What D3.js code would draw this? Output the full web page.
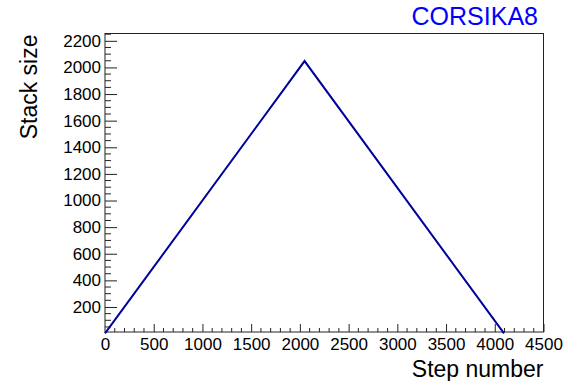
<!DOCTYPE html>
<html>
<head>
<meta charset="utf-8">
<script src="https://cdn.jsdelivr.net/npm/d3@7"></script>
<style>
  html, body { margin: 0; padding: 0; background: #fff; }
  #chart svg { display: block; font-family: "Liberation Sans", Arial, sans-serif; }
</style>
</head>
<body>
<div id="chart"></div>
<script>
// data
const steps = [0, 2048, 4095];
const stackSize = [1, 2048, 1];
const xTicks = [0, 500, 1000, 1500, 2000, 2500, 3000, 3500, 4000, 4500];
const yTicks = [200, 400, 600, 800, 1000, 1200, 1400, 1600, 1800, 2000, 2200];
const xDomain = [0, 4500];
const yDomain = [12, 2255];

const size = {
    width: 575,
    height: 381,
    margin: { top: 33.5, right: 31.5, bottom: 49, left: 105 }
};
const w = size.width - size.margin.left - size.margin.right;
const h = size.height - size.margin.top - size.margin.bottom;

const xScale = d3.scaleLinear().domain(xDomain).range([0, w]);
const yScale = d3.scaleLinear().domain(yDomain).range([h, 0]);

const svg = d3.select("#chart")
    .append("svg")
    .attr("width", size.width)
    .attr("height", size.height);

svg.append("rect")
    .attr("width", size.width)
    .attr("height", size.height)
    .attr("fill", "#fff");

const g = svg.append("g")
    .attr("transform", `translate(${size.margin.left}, ${size.margin.top})`);

// frame
g.append("rect")
    .attr("x", 0).attr("y", 0)
    .attr("width", w).attr("height", h)
    .attr("fill", "none")
    .attr("stroke", "#222")
    .attr("stroke-width", 1);

// minor ticks
const xMinor = d3.range(xDomain[0], xDomain[1] + 1, 100).filter(v => v % 500 !== 0);
const yMinor = d3.range(50, yDomain[1], 50).filter(v => v % 200 !== 0 && v >= yDomain[0]);

// X axis
const xAxis = g.append("g")
    .attr("transform", `translate(0, ${h})`);
xAxis.call(d3.axisBottom(xScale).tickValues(xTicks).tickSize(-8).tickPadding(14).tickFormat(d3.format("d")));
xAxis.selectAll(".tick")
    .filter(d => d === xDomain[0])
    .select("line").remove();
xAxis.append("g").selectAll("line")
    .data(xMinor)
    .join("line")
    .attr("x1", d => xScale(d)).attr("x2", d => xScale(d))
    .attr("y1", 0).attr("y2", -4)
    .attr("stroke", "#222");

// Y axis
const yAxis = g.append("g");
yAxis.call(d3.axisLeft(yScale).tickValues(yTicks).tickSize(-12).tickPadding(17).tickFormat(d3.format("d")));
yAxis.append("g").selectAll("line")
    .data(yMinor)
    .join("line")
    .attr("x1", 0).attr("x2", 6)
    .attr("y1", d => yScale(d)).attr("y2", d => yScale(d))
    .attr("stroke", "#222");

g.selectAll(".domain").remove();
g.selectAll(".tick line").attr("stroke", "#222");
g.selectAll(".tick text")
    .attr("fill", "#000")
    .attr("font-size", "17px")
    .attr("font-family", "Liberation Sans, Arial, sans-serif");
yAxis.selectAll(".tick text").attr("x", -4);
xAxis.selectAll(".tick text").attr("y", 6).attr("dy", "0.71em");

// data line
const points = steps.map((s, i) => ({ x: s, y: stackSize[i] }));
const valueline = d3.line()
    .x(d => xScale(d.x))
    .y(d => yScale(d.y));

g.append("path")
    .attr("d", valueline(points))
    .attr("fill", "none")
    .attr("stroke", "#00009a")
    .attr("stroke-width", 2);

// axis titles
svg.append("text")
    .attr("x", size.margin.left + w)
    .attr("y", 377)
    .attr("text-anchor", "end")
    .attr("font-size", "23px")
    .text("Step number");

svg.append("text")
    .attr("transform", `translate(37, ${size.margin.top + 1}) rotate(-90)`)
    .attr("text-anchor", "end")
    .attr("font-size", "23px")
    .text("Stack size");

svg.append("text")
    .attr("x", 538)
    .attr("y", 25)
    .attr("text-anchor", "end")
    .attr("font-size", "25px")
    .attr("fill", "#0000ff")
    .text("CORSIKA8");
</script>
</body>
</html>
